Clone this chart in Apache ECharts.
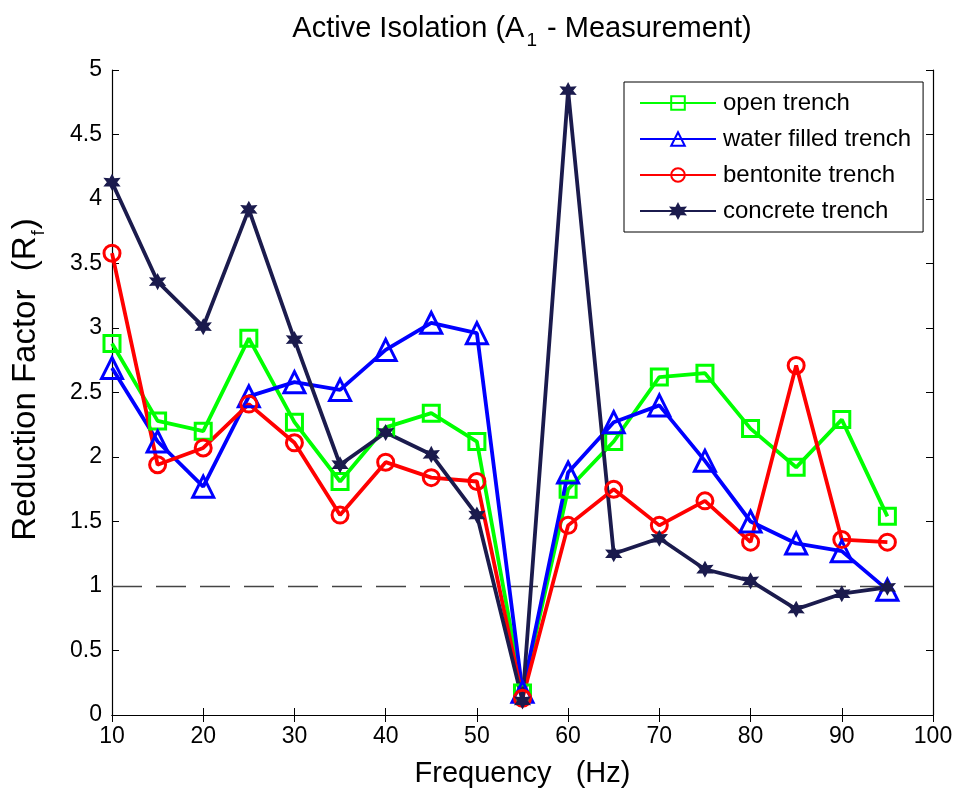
<!DOCTYPE html>
<html><head><meta charset="utf-8">
<script src="https://cdn.jsdelivr.net/npm/echarts@6/dist/echarts.min.js"></script>
<style>html,body{margin:0;padding:0;background:#fff}#c{width:959px;height:793px}</style>
</head><body><div id="c"></div>
<script>
const freq = [10,15,20,25,30,35,40,45,50,55,60,65,70,75,80,85,90,95];
const openTrench = [2.88,2.28,2.20,2.92,2.27,1.81,2.23,2.34,2.12,0.17,1.75,2.12,2.62,2.65,2.22,1.92,2.29,1.54];
const waterTrench = [2.69,2.12,1.77,2.47,2.58,2.52,2.83,3.04,2.96,0.18,1.88,2.27,2.40,1.97,1.50,1.33,1.27,0.97];
const bentoniteTrench = [3.58,1.94,2.07,2.41,2.11,1.55,1.96,1.84,1.81,0.13,1.47,1.75,1.47,1.66,1.34,2.71,1.36,1.34];
const concreteTrench = [4.13,3.36,3.01,3.92,2.91,1.94,2.19,2.02,1.55,0.11,4.84,1.25,1.37,1.13,1.04,0.82,0.94,0.99];
const seriesNames = ['open trench','water filled trench','bentonite trench','concrete trench'];
const xTicks = [10,20,30,40,50,60,70,80,90,100];
const yTicks = [0,0.5,1,1.5,2,2.5,3,3.5,4,4.5,5];
const refLine = 1;

const FONT = 'Liberation Sans, Arial, sans-serif';
const star = 'path://M0,-10 L2.6,-4.5 L8.7,-5 L5.2,0 L8.7,5 L2.6,4.5 L0,10 L-2.6,4.5 L-8.7,5 L-5.2,0 L-8.7,-5 L-2.6,-4.5 Z';
function pts(arr){ return freq.map((f,i)=>[f,arr[i]]); }
function mk(name, data, color, symbol, size, hollow){
  return {
    name, type:'line', data: pts(data), symbol, symbolSize:size, showAllSymbol:true,
    lineStyle:{color, width:3.8},
    itemStyle: hollow ? {color:'rgba(255,255,255,0)', borderColor:color, borderWidth:3} : {color, borderColor:color, borderWidth:1.5},
    emphasis:{disabled:true}, z: 3
  };
}
const series = [
  mk(seriesNames[0], openTrench, '#00ff00', 'rect', 16, true),
  mk(seriesNames[1], waterTrench, '#0000ff', 'triangle', 21, true),
  mk(seriesNames[2], bentoniteTrench, '#ff0000', 'circle', 16, true),
  mk(seriesNames[3], concreteTrench, '#1b1b4d', star, 14, false)
];
series[0].markLine = {
  silent:true, symbol:'none', label:{show:false},
  lineStyle:{color:'#444', type:[30,14], width:1.3},
  data:[{yAxis:refLine}], z:1
};
const chart = echarts.init(document.getElementById('c'));
const axisBase = {
  axisLine:{show:true, lineStyle:{color:'#000', width:1.2}},
  axisTick:{show:true, inside:true, length:7, lineStyle:{color:'#000'}},
  splitLine:{show:false}
};
chart.setOption({
  animation:false,
  backgroundColor:'#fff',
  textStyle:{fontFamily:FONT},
  title:{
    text:'{a|Active Isolation (A}{s|1}{a| - Measurement)}',
    left:517, textAlign:'center', top:9,
    textStyle:{rich:{
      a:{fontSize:29, fontWeight:'normal', color:'#000', fontFamily:FONT, lineHeight:32, verticalAlign:'top'},
      s:{fontSize:19, fontWeight:'normal', color:'#000', fontFamily:FONT, padding:[17,2,0,2], verticalAlign:'top'}
    }}
  },
  grid:{left:112, right:26, top:70, bottom:77},
  legend:{
    orient:'vertical', left:624, top:82,
    data:seriesNames,
    backgroundColor:'#fff', borderColor:'#000', borderWidth:1,
    padding:[9,12,9,15], itemGap:12, itemWidth:76, itemHeight:17,
    textStyle:{fontSize:24, color:'#000', fontFamily:FONT, padding:[0,0,0,2]}
  },
  xAxis:[
    Object.assign({type:'value', min:10, max:100, interval:10, position:'bottom',
      name:'Frequency   (Hz)', nameLocation:'middle', nameGap:44,
      nameTextStyle:{fontSize:29, color:'#000', fontFamily:FONT},
      axisLabel:{fontSize:23, color:'#000', margin:10, fontFamily:FONT}}, axisBase),
    Object.assign({type:'value', min:10, max:100, interval:10, position:'top', axisLabel:{show:false}}, axisBase)
  ],
  yAxis:[
    Object.assign({type:'value', min:0, max:5, interval:0.5, position:'left',
      name:'{a|Reduction Factor  (R}{s|f}{a|)}', nameLocation:'middle', nameGap:64, nameRotate:90,
      nameTextStyle:{padding:[0,0,0,26], rich:{
        a:{fontSize:33, color:'#000', fontFamily:FONT, lineHeight:36, verticalAlign:'top'},
        s:{fontSize:19, color:'#000', fontFamily:FONT, padding:[20,1,0,1], verticalAlign:'top'}
      }},
      axisLabel:{fontSize:23, color:'#000', margin:10, fontFamily:FONT}}, axisBase),
    Object.assign({type:'value', min:0, max:5, interval:0.5, position:'right', axisLabel:{show:false}}, axisBase)
  ],
  series
});
</script></body></html>
